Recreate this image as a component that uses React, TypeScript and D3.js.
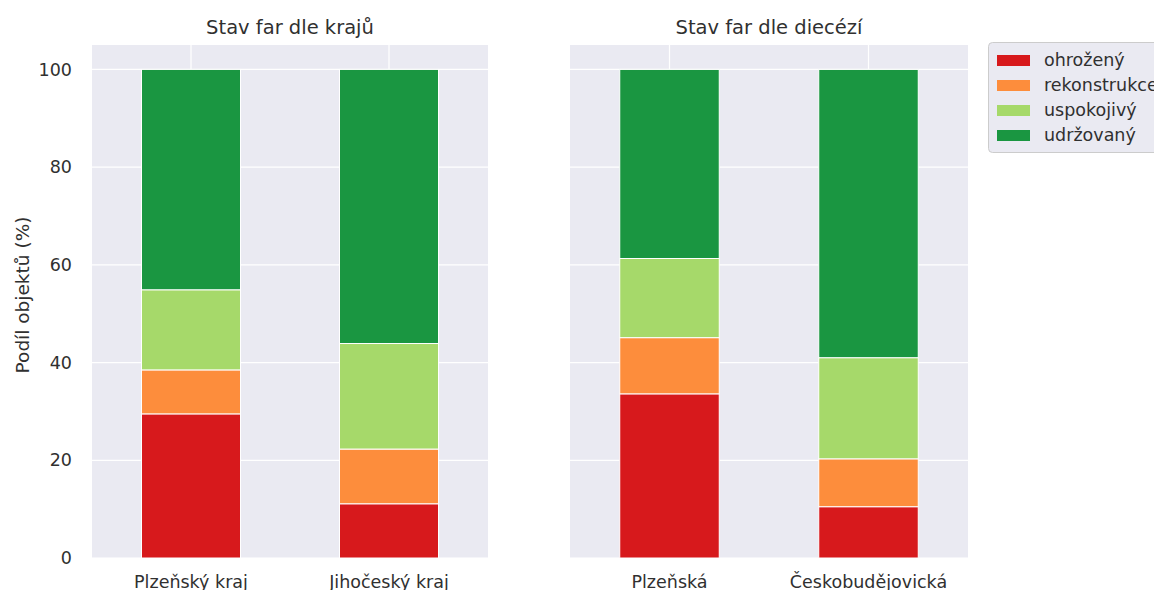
import React from "react";
import * as d3 from "d3";

const categories = ["ohrožený", "rekonstrukce", "uspokojivý", "udržovaný"];
const colors = ["#d7191c", "#fd8d3c", "#a6d96a", "#1a9641"];

const krajeLabels = ["Plzeňský kraj", "Jihočeský kraj"];
const krajeValues = [
  [29.5, 9.0, 16.4, 45.1],
  [11.1, 11.2, 21.6, 56.1],
];

const dieceseLabels = ["Plzeňská", "Českobudějovická"];
const dieceseValues = [
  [33.6, 11.5, 16.2, 38.7],
  [10.5, 9.8, 20.7, 59.0],
];

const yTicks = [0, 20, 40, 60, 80, 100];

const W = 1154;
const H = 590;
const top = 45;
const bottom = 558;
const font = "DejaVu Sans, sans-serif";
const textColor = "#303030";

const y = d3.scaleLinear().domain([0, 105]).range([bottom, top]);

function Panel({ x0, x1, title, labels, values, showY }: any) {
  const x = d3.scaleBand().domain(labels).range([x0, x1]).paddingInner(0.5).paddingOuter(0.25);
  const stacks = values.map((row: number[]) => {
    let acc = 0;
    return row.map((v) => {
      const s = acc;
      acc += v;
      return [s, acc];
    });
  });
  return (
    <g>
      <rect x={x0} y={top} width={x1 - x0} height={bottom - top} fill="#eaeaf2" />
      {yTicks.map((t) => (
        <line key={t} x1={x0} x2={x1} y1={y(t)} y2={y(t)} stroke="#fff" strokeWidth={1.2} />
      ))}
      {labels.map((l: string) => {
        const cx = (x(l) as number) + x.bandwidth() / 2;
        return <line key={l} x1={cx} x2={cx} y1={top} y2={bottom} stroke="#fff" strokeWidth={1.2} />;
      })}
      {labels.map((l: string, i: number) =>
        stacks[i].map(([s, e]: number[], j: number) => (
          <rect
            key={l + j}
            x={x(l)}
            y={y(e)}
            width={x.bandwidth()}
            height={y(s) - y(e)}
            fill={colors[j]}
            stroke="#fff"
            strokeWidth={1}
          />
        ))
      )}
      {labels.map((l: string) => (
        <text
          key={l}
          x={(x(l) as number) + x.bandwidth() / 2}
          y={bottom + 30}
          textAnchor="middle"
          fontSize={17.5}
          fill={textColor}
          fontFamily={font}
        >
          {l}
        </text>
      ))}
      {showY &&
        yTicks.map((t) => (
          <text
            key={t}
            x={x0 - 20}
            y={y(t)}
            dy="0.35em"
            textAnchor="end"
            fontSize={17.5}
            fill={textColor}
            fontFamily={font}
          >
            {t}
          </text>
        ))}
      <text
        x={(x0 + x1) / 2}
        y={top - 11}
        textAnchor="middle"
        fontSize={19.5}
        fill={textColor}
        fontFamily={font}
      >
        {title}
      </text>
    </g>
  );
}

export default function App() {
  return (
    <svg width={W} height={H} style={{ position: "absolute", left: 0, top: 0, background: "#fff" }}>
      <Panel x0={92} x1={488} title="Stav far dle krajů" labels={krajeLabels} values={krajeValues} showY />
      <Panel x0={570} x1={968} title="Stav far dle diecézí" labels={dieceseLabels} values={dieceseValues} showY={false} />
      <text
        transform={`translate(29,${295}) rotate(-90)`}
        textAnchor="middle"
        fontSize={18.5}
        fill={textColor}
        fontFamily={font}
      >
        Podíl objektů (%)
      </text>
      <g>
        <rect x={988.5} y={42.5} width={200} height={110} rx={4} fill="#eaeaf2" stroke="#cccccc" strokeWidth={1} />
        {categories.map((c, i) => (
          <g key={c}>
            <rect x={997} y={55 + i * 25} width={33} height={11} fill={colors[i]} />
            <text x={1044} y={60 + i * 25} dy="0.35em" fontSize={17.5} fill={textColor} fontFamily={font}>
              {c}
            </text>
          </g>
        ))}
      </g>
    </svg>
  );
}
